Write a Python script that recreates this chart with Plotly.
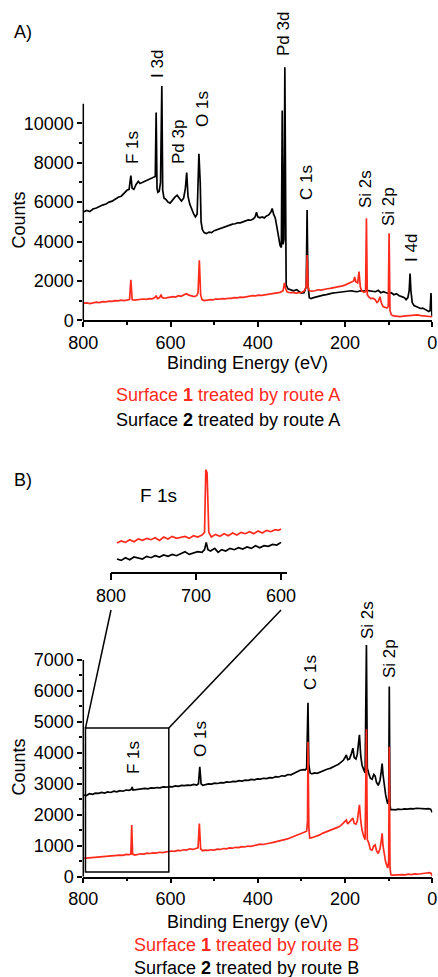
import plotly.graph_objects as go

# ---------------- data ----------------
# Panel A : survey spectra, route A  (binding energy eV, counts)
a_surface2_black = [
    (800,5500),(792,5580),(785,5520),(778,5650),(770,5700),(763,5780),(756,5850),(748,5900),
    (741,6000),(734,6050),(727,6150),(720,6250),(713,6300),(706,6450),(700,6600),(695,6650),
    (691,7350),(688,6700),(684,6650),(679,6900),(674,7050),(670,6950),(665,7000),(660,7050),
    (654,7100),(648,7150),(642,7200),(638,7250),(635,7300),(633,10550),(631,6700),(629,6500),
    (626,6550),(623,7000),(620,11900),(618,6600),(615,6200),(611,6150),(606,6000),(601,5950),
    (596,6100),(590,6250),(585,6350),(580,6200),(575,6050),(570,6200),(566,6700),(563,7500),
    (560,6300),(556,5900),(551,5600),(547,5400),(543,5250),(539,5400),(535,8450),(532,7000),
    (530,5000),(527,4600),(523,4450),(518,4400),(512,4480),(506,4450),(500,4550),(494,4600),
    (488,4650),(482,4700),(476,4750),(470,4780),(464,4850),(458,4880),(452,4900),(446,4950),
    (440,4950),(434,5000),(428,5050),(422,5100),(416,5080),(410,5150),(406,5250),(403,5480),
    (400,5250),(395,5200),(390,5250),(385,5200),(380,5300),(375,5350),(370,5500),(367,5680),
    (364,5400),(360,5200),(356,4700),(352,4200),(349,3800),(346,3700),(344,10650),(342,3850),
    (340,4100),(338,12850),(335,1800),(331,1600),(325,1550),(318,1500),(311,1550),(305,1480),
    (300,1380),(294,1400),(289,1700),(287,5600),(285,1800),(282,1150),(278,1100),(272,1150),
    (265,1200),(258,1250),(250,1280),(243,1300),(236,1350),(229,1380),(222,1400),(215,1420),
    (208,1450),(200,1450),(193,1480),(186,1500),(179,1470),(172,1450),(165,1500),(158,1480),
    (151,1520),(144,1500),(137,1480),(130,1450),(124,1520),(118,1400),(112,1450),(106,1380),
    (100,1350),(94,1400),(88,1300),(82,1350),(76,1250),(70,1200),(64,1150),(60,1050),
    (56,1150),(53,1500),(51,2380),(49,1500),(46,900),(42,750),(37,700),(32,650),(27,600),
    (22,620),(17,560),(12,500),(8,450),(5,500),(3,1380),(1,300),(0,200),
]
a_surface1_red = [
    (800,860),(792,880),(785,850),(778,900),(770,920),(763,900),(756,950),(748,940),(741,970),
    (734,960),(727,1000),(720,990),(713,1020),(706,1000),(700,1030),(694,1050),(691,2050),
    (688,1050),(683,1020),(676,1050),(670,1060),(663,1080),(656,1060),(649,1100),(642,1090),
    (636,1150),(633,1250),(630,1100),(625,1150),(622,1300),(619,1150),(613,1120),(607,1150),
    (600,1180),(594,1200),(588,1180),(582,1250),(576,1220),(570,1300),(564,1350),(558,1280),
    (552,1250),(546,1200),(540,1250),(537,1400),(534,3050),(531,1300),(528,1050),(523,1000),
    (517,1020),(510,1050),(503,1040),(496,1080),(489,1070),(482,1100),(475,1090),(468,1120),
    (461,1110),(454,1150),(447,1140),(440,1180),(433,1160),(426,1200),(419,1220),(412,1250),
    (405,1240),(398,1280),(391,1270),(384,1300),(377,1320),(370,1350),(363,1380),(356,1400),
    (349,1420),(342,1500),(339,1900),(336,1600),(333,1450),(327,1400),(320,1420),(313,1380),
    (306,1400),(299,1420),(293,1500),(289,1700),(287,3320),(285,1700),(282,1500),(276,1480),
    (269,1500),(262,1550),(255,1530),(248,1580),(241,1600),(234,1620),(227,1650),(220,1680),
    (213,1700),(206,1750),(199,1800),(193,1850),(188,1900),(184,1950),(180,2000),(178,2200),
    (175,1950),(171,1900),(168,2470),(165,1700),(162,1500),(157,1420),(153,1450),(151,5180),
    (149,1300),(146,1200),(141,1100),(136,1120),(131,1050),(127,900),(124,950),(120,1200),
    (117,900),(113,700),(108,650),(104,620),(101,700),(99,4420),(97,500),(94,280),(89,220),
    (82,200),(74,190),(66,210),(58,230),(50,220),(42,260),(34,270),(26,240),(18,220),(10,200),
    (4,210),(0,180),
]

# Panel B : survey spectra, route B
b_surface2_black = [
    (800,2640),(793,2620),(786,2680),(779,2660),(772,2700),(765,2690),(758,2720),(751,2700),
    (744,2740),(737,2720),(730,2760),(723,2740),(716,2780),(709,2760),(702,2800),(695,2790),
    (690,2820),(688,2900),(686,2800),(680,2810),(673,2830),(666,2820),(659,2850),(652,2840),
    (645,2870),(638,2860),(631,2880),(624,2870),(617,2900),(610,2890),(603,2910),(596,2900),
    (589,2930),(582,2920),(575,2950),(568,2940),(561,2960),(554,2950),(547,2980),(540,2960),
    (536,3000),(533,3550),(530,3000),(526,2950),(520,2970),(513,3000),(506,2990),(499,3020),
    (492,3010),(485,3040),(478,3030),(471,3060),(464,3050),(457,3080),(450,3070),(443,3100),
    (436,3090),(429,3120),(422,3110),(415,3140),(408,3130),(401,3160),(394,3150),(387,3180),
    (380,3170),(373,3200),(366,3190),(359,3230),(352,3220),(345,3260),(338,3250),(331,3300),
    (324,3290),(317,3340),(310,3380),(303,3440),(296,3460),(291,3450),(288,3500),(285,5620),
    (283,3600),(280,3350),(276,3320),(270,3350),(264,3340),(258,3380),(252,3420),(246,3450),
    (240,3480),(234,3500),(228,3550),(222,3580),(216,3620),(210,3680),(204,3760),(200,3850),
    (197,3930),(194,3780),(190,3800),(186,3950),(182,4150),(179,3850),(175,3800),(172,3950),
    (169,4300),(167,4580),(164,3900),(161,3600),(157,3450),(154,3350),(151,7480),(149,3500),
    (146,3350),(142,3180),(138,3150),(134,3300),(131,3250),(128,3050),(124,2950),(120,3100),
    (117,3400),(115,3650),(113,3300),(110,2850),(107,2650),(104,2450),(102,2350),(100,2500),
    (98.6,6140),(97,2300),(95,2160),(90,2170),(85,2160),(78,2180),(71,2170),(64,2190),
    (57,2180),(50,2200),(43,2190),(36,2210),(29,2200),(22,2210),(15,2190),(9,2200),(4,2180),
    (0,2080),
]
b_surface1_red = [
    (800,590),(793,600),(786,590),(779,620),(772,610),(765,640),(758,630),(751,660),(744,650),
    (737,680),(730,670),(723,690),(716,700),(709,690),(702,720),(695,710),(691,730),(689,1670),
    (687,730),(682,700),(675,720),(668,740),(661,730),(654,760),(647,750),(640,770),(633,760),
    (626,790),(619,780),(612,800),(605,810),(598,830),(591,820),(584,850),(577,840),(570,870),
    (563,860),(556,900),(549,880),(542,910),(537,930),(534,1720),(531,900),(527,840),(521,860),
    (514,850),(507,870),(500,860),(493,890),(486,880),(479,910),(472,900),(465,930),(458,920),
    (451,950),(444,940),(437,970),(430,960),(423,990),(416,980),(409,1010),(402,1020),
    (395,1050),(388,1040),(381,1070),(374,1080),(367,1100),(360,1120),(353,1140),(346,1160),
    (339,1190),(332,1220),(325,1260),(318,1300),(311,1340),(304,1390),(298,1420),(292,1440),
    (288,1470),(286,1800),(285,4360),(283,1600),(281,1250),(276,1260),(270,1290),(264,1300),
    (258,1350),(252,1400),(246,1430),(240,1480),(234,1500),(228,1520),(222,1560),(216,1600),
    (210,1650),(204,1720),(200,1780),(197,1830),(194,1700),(190,1760),(186,1800),(182,1890),
    (179,1720),(175,1700),(172,1800),(169,2100),(167,2320),(164,1800),(161,1500),(157,1300),
    (154,1200),(151,4760),(149,1200),(146,1100),(142,880),(138,860),(134,1000),(131,1030),
    (128,850),(124,750),(120,900),(117,1150),(115,1400),(113,1000),(110,650),(107,480),
    (104,350),(102,280),(100,500),(98.6,4200),(97,300),(95,60),(90,50),(83,60),(76,50),
    (69,70),(62,60),(55,80),(48,70),(41,90),(34,80),(27,100),(20,110),(13,120),(7,130),
    (3,110),(0,30),
]

# Inset of panel B : F 1s region (arbitrary offset units)
inset_red = [
    (793,600),(788,630),(783,610),(778,650),(773,620),(768,660),(763,640),(758,670),(753,650),
    (748,680),(743,640),(738,690),(733,660),(728,700),(723,670),(718,690),(713,700),(708,670),
    (703,710),(698,690),(693,720),(690,760),(688.5,1700),(687,1650),(685,760),(682,690),
    (677,730),(672,700),(667,740),(662,710),(657,750),(652,720),(647,760),(642,740),(637,770),
    (632,740),(627,780),(622,750),(617,790),(612,770),(607,800),(603,790),(600,810),
]
inset_black = [
    (793,360),(788,340),(783,380),(778,350),(773,390),(768,370),(763,360),(758,400),(753,380),
    (748,410),(743,390),(738,420),(733,400),(728,430),(723,410),(718,440),(713,470),(708,430),
    (703,450),(698,470),(693,460),(690,500),(688,610),(686,500),(683,480),(678,520),(674,460),
    (670,500),(665,480),(660,520),(655,500),(650,530),(645,510),(640,540),(635,520),(630,560),
    (625,530),(620,560),(615,550),(610,580),(605,570),(600,610),
]

x_ticks_main = [800, 600, 400, 200, 0]
x_minor_main = [700, 500, 300, 100]
a_y_ticks = [0, 2000, 4000, 6000, 8000, 10000]
a_y_minor = [1000, 3000, 5000, 7000, 9000]
b_y_ticks = [0, 1000, 2000, 3000, 4000, 5000, 6000, 7000]
b_y_minor = [500, 1500, 2500, 3500, 4500, 5500, 6500]
inset_ticks = [800, 700, 600]

# ---------------- layout helpers ----------------
W, H = 438, 977
FONT = "Liberation Sans, Arial, sans-serif"
RED = "#ff2a1c"


def fx(p):
    return p / W


def fy(p):
    return 1 - p / H


def to_paper(v, dom, rng):
    return dom[0] + (v - rng[0]) / (rng[1] - rng[0]) * (dom[1] - dom[0])


xdomA = [fx(83.3), fx(432.3)]
ydomA = [fy(320.3), fy(60.3)]
yrngA = [0, 13200]
xdomB = xdomA
ydomB = [fy(876.7), fy(629.0)]
yrngB = [0, 8000]
xrngMain = [800, 0]
xdomI = [fx(111), fx(287)]
xrngI = [800, 593]
ydomI = [fy(571.7), fy(463.0)]
yrngI = [170, 1800]


def unzip(pairs):
    return [p[0] for p in pairs], [p[1] for p in pairs]


fig = go.Figure()
series = [
    (a_surface2_black, "black", "x", "y"),
    (a_surface1_red, RED, "x", "y"),
    (b_surface2_black, "black", "x2", "y2"),
    (b_surface1_red, RED, "x2", "y2"),
    (inset_black, "black", "x3", "y3"),
    (inset_red, RED, "x3", "y3"),
]
for pairs, col, xa, ya in series:
    xs, ys = unzip(pairs)
    fig.add_trace(go.Scatter(x=xs, y=ys, mode="lines", line=dict(color=col, width=1.7),
                             xaxis=xa, yaxis=ya, showlegend=False, hoverinfo="skip"))

axis_common = dict(showgrid=False, zeroline=False, automargin=False,
                   linecolor="black", linewidth=1.5,
                   ticks="outside", ticklen=5, tickwidth=1.5, tickcolor="black",
                   tickfont=dict(family=FONT, size=18, color="black"))


def minor(vals):
    return dict(tickmode="array", tickvals=vals, ticks="outside", ticklen=3,
                tickwidth=1.5, tickcolor="black")


fig.update_layout(
    template="none",
    width=W, height=H, margin=dict(l=0, r=0, t=0, b=0, pad=0), autosize=False,
    paper_bgcolor="white", plot_bgcolor="white",
    font=dict(family=FONT, color="black"),
    xaxis=dict(domain=xdomA, range=xrngMain, anchor="y", showline=True,
               tickmode="array", tickvals=x_ticks_main, ticktext=[str(v) for v in x_ticks_main],
               minor=minor(x_minor_main), **axis_common),
    yaxis=dict(domain=ydomA, range=yrngA, anchor="x", showline=False,
               tickmode="array", tickvals=a_y_ticks, ticktext=[str(v) for v in a_y_ticks],
               minor=minor(a_y_minor), **axis_common),
    xaxis2=dict(domain=xdomB, range=xrngMain, anchor="y2", showline=True,
                tickmode="array", tickvals=x_ticks_main, ticktext=[str(v) for v in x_ticks_main],
                minor=minor(x_minor_main), **axis_common),
    yaxis2=dict(domain=ydomB, range=yrngB, anchor="x2", showline=False,
                tickmode="array", tickvals=b_y_ticks, ticktext=[str(v) for v in b_y_ticks],
                minor=minor(b_y_minor), **axis_common),
    xaxis3=dict(domain=xdomI, range=xrngI, anchor="y3", showline=True,
                tickmode="array", tickvals=inset_ticks, ticktext=[str(v) for v in inset_ticks],
                **dict(axis_common, ticklen=7)),
    yaxis3=dict(domain=ydomI, range=yrngI, anchor="x3", visible=False, automargin=False),
)

# y-axis lines that stop at the last labelled tick
fig.add_shape(type="line", xref="x domain", yref="y", x0=0, x1=0, y0=0, y1=11000,
              line=dict(color="black", width=1.5))
fig.add_shape(type="line", xref="x2 domain", yref="y2", x0=0, x1=0, y0=0, y1=7000,
              line=dict(color="black", width=1.5))

# zoom box and connector lines for the inset
box_ev = [795, 604]
box_counts = [150, 4800]
fig.add_shape(type="rect", xref="x2", yref="y2", x0=box_ev[0], x1=box_ev[1],
              y0=box_counts[0], y1=box_counts[1], line=dict(color="black", width=1.5))
conn_y = fy(610)
for bev, iev in zip(box_ev, [inset_ticks[0], inset_ticks[-1]]):
    fig.add_shape(type="line", xref="paper", yref="paper",
                  x0=to_paper(bev, xdomB, xrngMain), y0=to_paper(box_counts[1], ydomB, yrngB),
                  x1=to_paper(iev, xdomI, xrngI), y1=conn_y,
                  line=dict(color="black", width=1.5))


def ann(text, x, y, size=18, color="black", angle=0):
    fig.add_annotation(text=text, x=fx(x), y=fy(y), xref="paper", yref="paper",
                       showarrow=False, xanchor="center", yanchor="middle", textangle=angle,
                       font=dict(family=FONT, size=size, color=color))


# panel letters, axis titles, legends
ann("A)", 23, 32)
ann("B)", 23, 480)
ann("Counts", 18.5, 220, angle=-90)
ann("Counts", 18.5, 767, angle=-90)
ann("Binding Energy (eV)", 247.5, 363)
ann("Binding Energy (eV)", 247.5, 922)
ann("Surface <b>1</b> treated by route A", 228, 395, color=RED)
ann("Surface <b>2</b> treated by route A", 228, 420)
ann("Surface <b>1</b> treated by route B", 246, 945, color=RED)
ann("Surface <b>2</b> treated by route B", 246, 968)

# peak labels
a_peak_labels = ["F 1s", "I 3d", "Pd 3p", "O 1s", "Pd 3d", "C 1s", "Si 2s", "Si 2p", "I 4d"]
a_label_pos = [(133, 148), (158, 64), (179, 142), (203, 109), (284, 34), (307, 183),
               (366, 189), (388, 207), (411, 248)]
for t, (x, y) in zip(a_peak_labels, a_label_pos):
    ann(t, x, y, size=17, angle=-90)

b_peak_labels = ["F 1s", "O 1s", "C 1s", "Si 2s", "Si 2p"]
b_label_pos = [(133, 758), (200, 739), (310, 673), (367, 620), (389, 659)]
for t, (x, y) in zip(b_peak_labels, b_label_pos):
    ann(t, x, y, size=17, angle=-90)

ann("F 1s", 158, 496, size=19)

fig.write_html(
    "out.html",
    config={"displayModeBar": False},
    post_script="document.body.style.margin='0px';"
                "document.documentElement.style.overflow='hidden';",
)
